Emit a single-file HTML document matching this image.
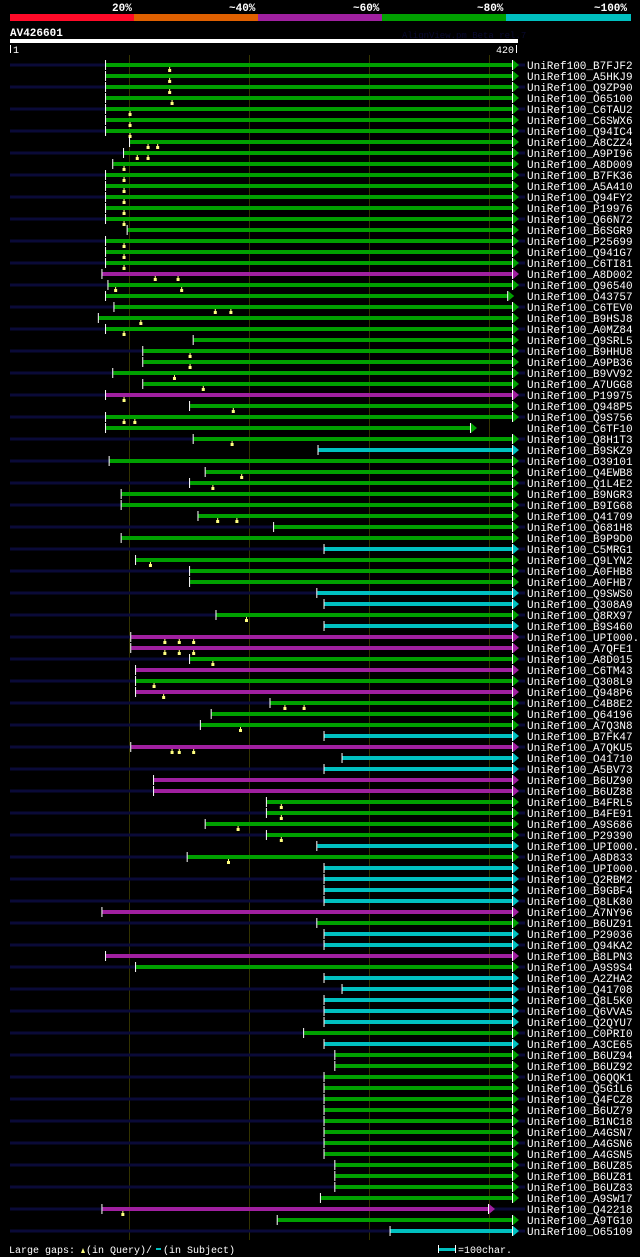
<!DOCTYPE html>
<html><head><meta charset="utf-8">
<style>
html,body{margin:0;padding:0;background:#000;}
body{width:640px;height:1257px;overflow:hidden;position:relative;font-family:"Liberation Mono","DejaVu Sans Mono",monospace;}
svg{position:absolute;left:0;top:0;}
</style></head>
<body>
<svg id="chart" width="640" height="1257">
  <g>
    <rect x="10" y="14" width="124" height="7" fill="#ff0a28"/>
    <rect x="134" y="14" width="124" height="7" fill="#e06000"/>
    <rect x="258" y="14" width="124" height="7" fill="#a020a0"/>
    <rect x="382" y="14" width="124" height="7" fill="#00a000"/>
    <rect x="506" y="14" width="125" height="7" fill="#00c0c0"/>
    <text x="112" y="11" fill="#fff" font-size="11" font-weight="bold">20%</text>
    <text x="229" y="11" fill="#fff" font-size="11" font-weight="bold">~40%</text>
    <text x="353" y="11" fill="#fff" font-size="11" font-weight="bold">~60%</text>
    <text x="477" y="11" fill="#fff" font-size="11" font-weight="bold">~80%</text>
    <text x="594" y="11" fill="#fff" font-size="11" font-weight="bold">~100%</text>
  </g>
  <text x="10" y="36" fill="#fff" font-size="11" font-weight="bold">AV426601</text>
  <text x="402" y="38" fill="#0a0a30" font-size="9">AlignView.pm Beta rel.7</text>
  <rect x="10" y="39" width="508" height="4" fill="#fff"/>
  <rect x="10" y="45" width="1" height="8" fill="#fff"/>
  <text x="13" y="53" fill="#fff" font-size="10">1</text>
  <text x="496" y="53" fill="#fff" font-size="10">420</text>
  <rect x="516" y="45" width="1" height="8" fill="#fff"/>
  <g id="grid"></g>
  <g id="rows"></g>
  <g>
    <text x="9" y="1253" fill="#fff" font-size="10">Large gaps:</text>
    <path d="M81 1253 L83 1248 L85 1253 Z" fill="#ffff80"/>
    <text x="86" y="1253" fill="#fff" font-size="10">(in Query)/</text>
    <rect x="156" y="1248" width="5" height="2" fill="#00c0c0"/>
    <text x="163" y="1253" fill="#fff" font-size="10">(in Subject)</text>
    <rect x="438" y="1245" width="1" height="8" fill="#fff"/>
    <rect x="439" y="1248" width="16" height="3" fill="#00c0c0"/>
    <rect x="455" y="1245" width="1" height="8" fill="#fff"/>
    <text x="458" y="1253" fill="#fff" font-size="10">=100char.</text>
  </g>
</svg>
<script>
const names = ["B7FJF2","A5HKJ9","Q9ZP90","O65100","C6TAU2","C6SWX6","Q94IC4","A8CZZ4","A9PI96","A8D009","B7FK36","A5A410","Q94FY2","P19976","Q66N72","B6SGR9","P25699","Q941G7","C6TI81","A8D002","Q96540","O43757","C6TEV0","B9HSJ8","A0MZ84","Q9SRL5","B9HHU8","A9PB36","B9VV92","A7UGG8","P19975","Q948P5","Q9S756","C6TF10","Q8H1T3","B9SKZ9","O39101","Q4EWB8","Q1L4E2","B9NGR3","B9IG68","Q41709","Q681H8","B9P9D0","C5MRG1","Q9LYN2","A0FHB8","A0FHB7","Q9SWS0","Q308A9","Q8RX97","B9S460","UPI000..","A7QFE1","A8D015","C6TM43","Q308L9","Q948P6","C4B8E2","Q64196","A7Q3N8","B7FK47","A7QKU5","O41710","A5BV73","B6UZ90","B6UZ88","B4FRL5","B4FE91","A9S686","P29390","UPI000..","A8D833","UPI000..","Q2RBM2","B9GBF4","Q8LK80","A7NY96","B6UZ91","P29036","Q94KA2","B8LPN3","A9S9S4","A2ZHA2","Q41708","Q8L5K0","Q6VVA5","Q2QYU7","C0PRI0","A3CE65","B6UZ94","B6UZ92","Q6QQK1","Q5G1L6","Q4FCZ8","B6UZ79","B1NC18","A4GSN7","A4GSN6","A4GSN5","B6UZ85","B6UZ81","B6UZ83","A9SW17","Q42218","A9TG10","O65109"];
// alignment start / end in query residues (1..420)
const starts = [81,81,81,81,81,81,81,101,96,87,81,81,81,81,81,99,81,81,81,78,83,81,88,75,81,154,112,112,87,112,81,151,81,81,154,258,84,164,151,94,94,158,221,94,263,106,151,151,257,263,173,263,102,102,151,106,106,106,218,169,160,263,102,278,263,121,121,215,215,164,215,257,149,263,263,263,263,78,257,263,263,81,106,263,278,263,263,263,246,263,272,272,263,263,263,263,263,263,263,263,272,272,272,260,78,224,318];
const ends = [420,420,420,420,420,420,420,420,420,420,420,420,420,420,420,420,420,420,420,420,420,416,420,420,420,420,420,420,420,420,420,420,420,385,420,420,420,420,420,420,420,420,420,420,420,420,420,420,420,420,420,420,420,420,420,420,420,420,420,420,420,420,420,420,420,420,420,420,420,420,420,420,420,420,420,420,420,420,420,420,420,420,420,420,420,420,420,420,420,420,420,420,420,420,420,420,420,420,420,420,420,420,420,420,400,420,420];
// identity class: 0=green(~80%) 1=magenta(~60%) 2=cyan(~100%)
const classes = [0,0,0,0,0,0,0,0,0,0,0,0,0,0,0,0,0,0,0,1,0,0,0,0,0,0,0,0,0,0,1,0,0,0,0,2,0,0,0,0,0,0,0,0,2,0,0,0,2,2,0,2,1,1,0,1,0,1,0,0,0,2,1,2,2,1,1,0,0,0,0,2,0,2,2,2,2,1,0,2,2,1,0,2,2,2,2,2,0,2,0,0,0,0,0,0,0,0,0,0,0,0,0,0,1,0,2];
// query gap positions (residues) per row
const queryGaps = [[134],[134],[134],[136],[101],[101],[101],[116,124],[107,116],[96],[96],[96],[96],[96],[96],[],[96],[96],[96],[122,141],[89,144],[],[172,185],[110],[96],[],[151],[151],[138],[162],[96],[187],[96,105],[],[186],[],[],[194],[170],[],[],[174,190],[],[],[],[118],[],[],[],[],[198],[],[130,142,154],[130,142,154],[170],[],[121],[129],[230,246],[],[193],[],[136,142,154],[],[],[],[],[227],[227],[191],[227],[],[183],[],[],[],[],[],[],[],[],[],[],[],[],[],[],[],[],[],[],[],[],[],[],[],[],[],[],[],[],[],[],[],[95],[],[]];
const gridTicks = [100,200,300,400];
const colors = ["#00a000","#a020a0","#00c0c0"];
function xScale(r){ return 10 + (r-1)*(503/419); }
function yScale(i){ return 65 + i*11; }
const NS = "http://www.w3.org/2000/svg";
function mk(tag, attrs){ const e=document.createElementNS(NS,tag); for(const k in attrs) e.setAttribute(k,attrs[k]); return e; }
const grid = document.getElementById('grid');
gridTicks.forEach(t=>{
  const l = mk('rect',{x:Math.round(xScale(t)),y:55,width:1,height:1185,fill:'#333300'});
  
  
  grid.appendChild(l);
});
const rows = document.getElementById('rows');
names.forEach((n,i)=>{
  const y = yScale(i);
  const g = mk('g',{});
  
  
  const x0 = xScale(starts[i]), x1 = xScale(ends[i]);
  const col = colors[classes[i]];
  if(i%2===0){
    const nv = mk('rect',{x:10,y:y-1.5,width:515,height:3,fill:'#0a0a38'});
    
    
    g.appendChild(nv);
  }
  const bar = mk('rect',{x:x0,y:y-2,width:x1-x0,height:4,fill:col});
  
  
  g.appendChild(bar);
  const tick = mk('rect',{x:x0-1,y:y-5,width:1,height:10,fill:'#fff'});
  
  
  g.appendChild(tick);
  const arr = mk('path',{d:`M${x1} ${y-5} L${x1+6} ${y} L${x1} ${y+5} Z`,fill:col});
  
  
  g.appendChild(arr);
  const wt = mk('rect',{x:x1-1,y:y-5,width:1,height:10,fill:'#fff'});
  
  
  g.appendChild(wt);
  queryGaps[i].forEach(q=>{
    const gx = xScale(q);
    const tr = mk('path',{d:`M${gx-0.5} ${y+2} h1 v2 h1 v3 h-3 v-3 h1 Z`,fill:'#ffff80'});
    
    
    g.appendChild(tr);
  });
  const t = mk('text',{x:527,y:y+4,fill:'#fff','font-size':'11'});
  t.textContent = 'UniRef100_' + n;
  
  
  g.appendChild(t);
  rows.appendChild(g);
});
</script>
</body></html>
